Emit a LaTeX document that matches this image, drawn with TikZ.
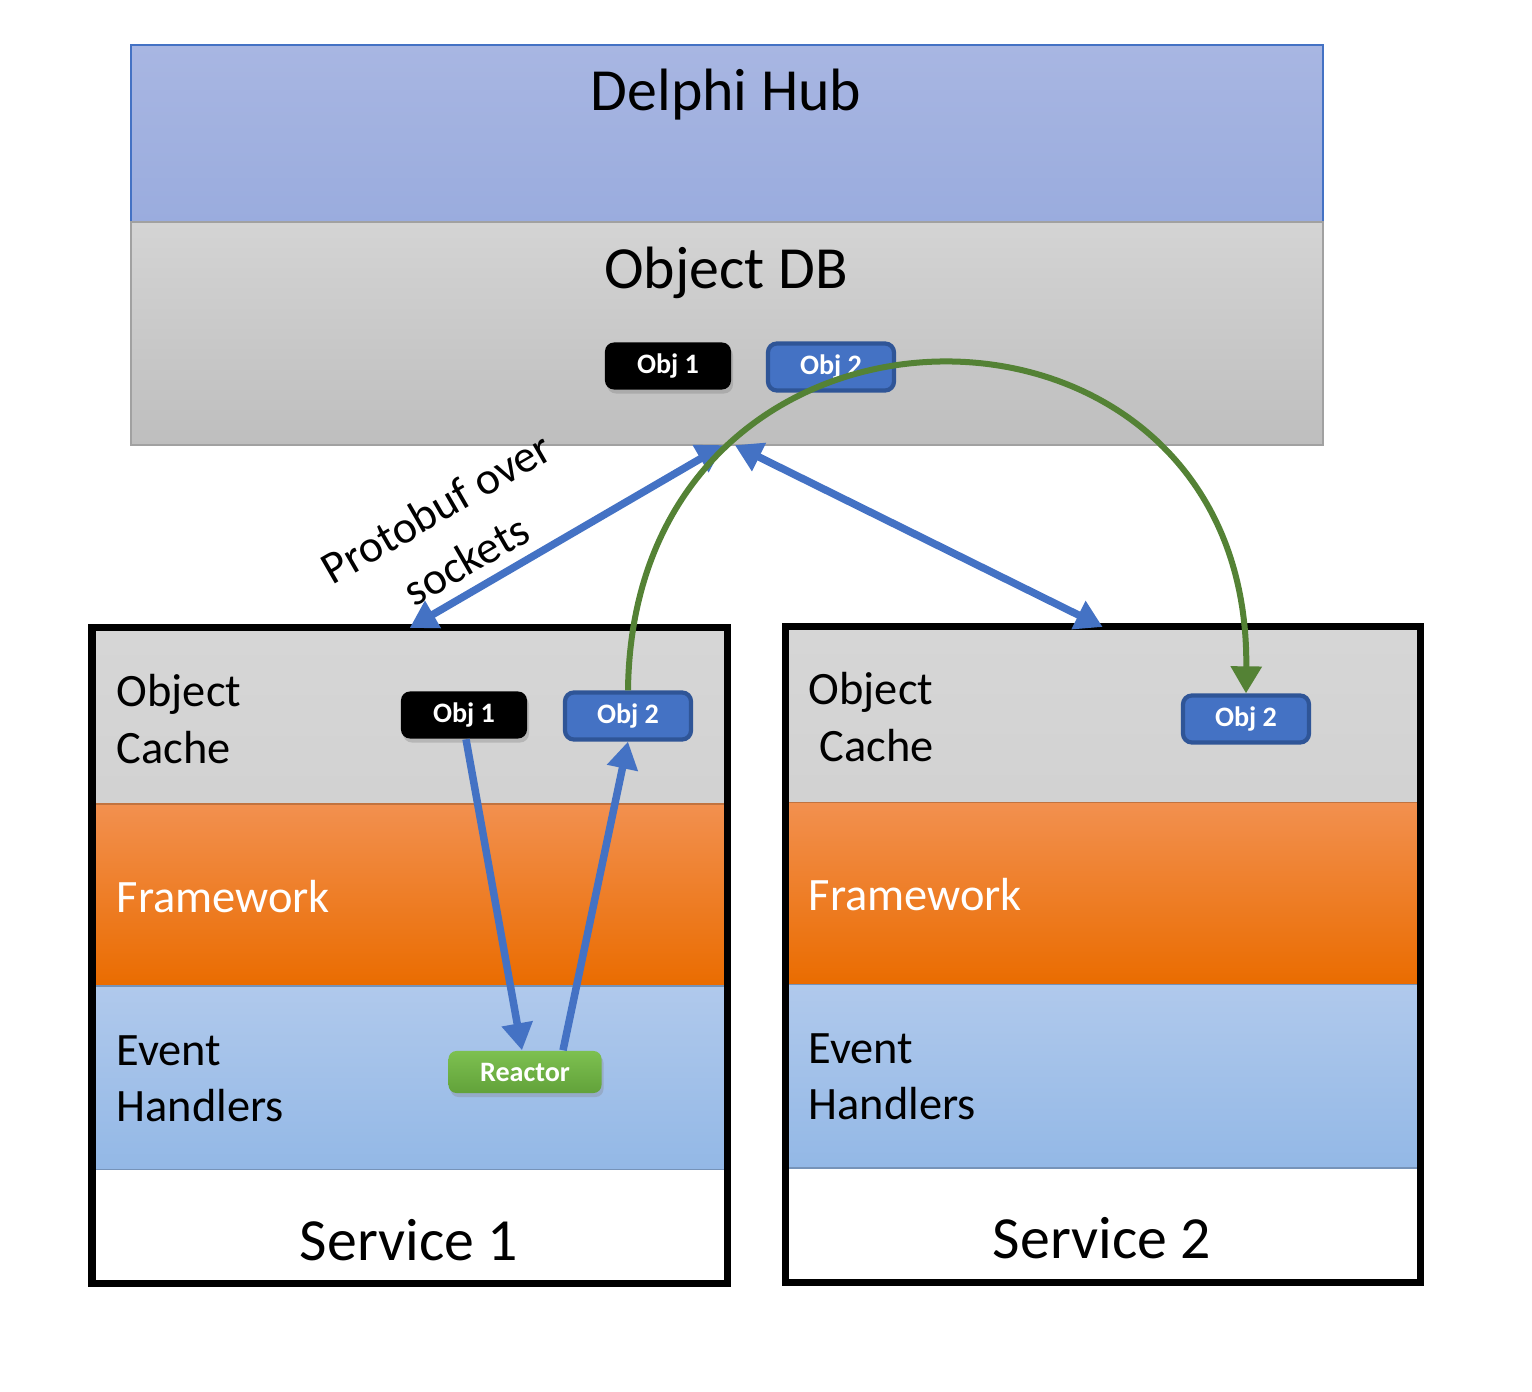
\documentclass[tikz,border=0pt]{standalone}
\usepackage{fontspec}
\setmainfont{Carlito}
\usepackage{tikz}
\usetikzlibrary{arrows.meta,positioning,calc,shadows}
\usepackage{xcolor}
\definecolor{hubTop}{HTML}{A8B6E2}
\definecolor{hubBot}{HTML}{9AACDE}
\definecolor{dbTop}{HTML}{D4D4D4}
\definecolor{dbBot}{HTML}{BEBEBE}
\definecolor{orgTop}{HTML}{F2904F}
\definecolor{orgMid}{HTML}{F47D16}
\definecolor{orgBot}{HTML}{EA6C00}
\definecolor{evTop}{HTML}{B0C9EC}
\definecolor{evBot}{HTML}{93B8E6}
\definecolor{objBlue}{HTML}{4472C4}
\definecolor{objEdge}{HTML}{2F5597}
\definecolor{arcGreen}{HTML}{548235}
\definecolor{reactTop}{HTML}{7DC050}
\definecolor{reactBot}{HTML}{62A23A}

\begin{document}
\begin{tikzpicture}[x=0.01cm,y=-0.01cm,>={Triangle[width=0.3cm,length=0.27cm]},
  bigtxt/.style={font=\fontsize{17}{20}\selectfont},
  bandtxt/.style={font=\fontsize{13.2}{16}\selectfont,align=left,anchor=west,inner sep=0pt},
  band/.style={anchor=north west,minimum width=6.35cm,inner sep=0pt,outer sep=0pt},
  cacheband/.style={band,top color=dbTop!95!white,bottom color=dbTop!90!dbBot,minimum height=1.76cm},
  fwband/.style={band,top color=orgTop,middle color=orgMid,bottom color=orgBot,draw=orgTop!80!black,line width=0.4pt,minimum height=1.82cm},
  evband/.style={band,top color=evTop,bottom color=evBot,draw=evBot!80!black,line width=0.4pt,minimum height=1.83cm},
  svcframe/.style={draw=black,line width=0.07cm,anchor=north west,minimum width=6.35cm,minimum height=6.55cm,inner sep=0pt,outer sep=0pt},
  objbox/.style={rounded corners=0.09cm,minimum width=1.26cm,minimum height=0.47cm,inner sep=0pt,text=white,font=\bfseries\fontsize{8}{10}\selectfont},
  objblack/.style={objbox,fill=black,drop shadow={opacity=0.35,shadow xshift=0.02cm,shadow yshift=-0.04cm}},
  objblue/.style={objbox,fill=objBlue,draw=objEdge,line width=1.2pt},
  link/.style={<->,objBlue,line width=0.075cm},
  flow/.style={->,objBlue,line width=0.075cm}]
  \useasboundingbox (0,0) rectangle (1532,1392);

  % hub and object db
  \node[anchor=north west,minimum width=11.91cm,minimum height=1.77cm,inner sep=0pt,outer sep=0pt,
        top color=hubTop,bottom color=hubBot,draw=objBlue,line width=0.5pt] (hub) at (131,45) {};
  \node[anchor=north west,minimum width=11.91cm,minimum height=2.23cm,inner sep=0pt,outer sep=0pt,
        top color=dbTop,bottom color=dbBot,draw=dbBot!85!black,line width=0.5pt] (db) at (131,222) {};
  \node[bigtxt] (hubLbl) at (726,95) {Delphi Hub};
  \node[bigtxt] (dbLbl) at (726,273) {Object DB};
  \node[objblack] (dbObjA) at (668,366) {Obj 1};
  \node[objblue] (dbObjB) at (831,367) {Obj 2};

  % service 1
  \node[cacheband] (cacheA) at (92,628) {};
  \node[fwband,below=0pt of cacheA] (fwA) {};
  \node[evband,below=0pt of fwA] (evA) {};
  \node[svcframe] (svcA) at (92,628) {};
  \node[bandtxt] (cacheLblA) at (116,719) {Object\\Cache};
  \node[bandtxt,text=white] (fwLblA) at (116,897) {Framework};
  \node[bandtxt] (evLblA) at (116,1079) {Event\\Handlers};
  \node[bigtxt] (svcLblA) at (409,1240) {Service 1};
  \node[objblack] (objA1) at (464,715) {Obj 1};
  \node[objblue] (objA2) at (628,716) {Obj 2};
  \node[rounded corners=0.08cm,minimum width=1.53cm,minimum height=0.42cm,inner sep=0pt,
        top color=reactTop,bottom color=reactBot,text=white,font=\bfseries\fontsize{8}{10}\selectfont,
        drop shadow={opacity=0.3,shadow xshift=0.02cm,shadow yshift=-0.04cm}] (react) at (525,1072) {Reactor};

  % service 2
  \node[cacheband,minimum height=1.755cm] (cacheB) at (785,627) {};
  \node[fwband,below=0pt of cacheB] (fwB) {};
  \node[evband,below=0pt of fwB] (evB) {};
  \node[svcframe] (svcB) at (785,627) {};
  \node[bandtxt] (cacheLblB) at (808,717) {Object\\\hspace*{0.11cm}Cache};
  \node[bandtxt,text=white] (fwLblB) at (808,895) {Framework};
  \node[bandtxt] (evLblB) at (808,1077) {Event\\Handlers};
  \node[bigtxt] (svcLblB) at (1102,1238) {Service 2};
  \node[objblue] (objB2) at (1246,719) {Obj 2};

  % connectors
  \draw[link] (svcA.north) -- ([xshift=-0.03cm]db.south);
  \draw[link] ([xshift=0.08cm]db.south) -- (svcB.north);
  \node[rotate=30,align=center,font=\fontsize{13}{17}\selectfont] (proto) at (451,534) {Protobuf over\\sockets};
  \draw[flow] ([xshift=0.02cm]objA1.south) -- ([xshift=-0.03cm]react.north);
  \draw[flow] ([xshift=0.38cm]react.north) -- (objA2.south);
  \draw[->,arcGreen,line width=0.06cm] (objA2.north)
    .. controls ([xshift=0.05cm,yshift=4.36cm]objA2.north) and ([xshift=0.05cm,yshift=4.36cm]objB2.north) .. (objB2.north);
\end{tikzpicture}
\end{document}
